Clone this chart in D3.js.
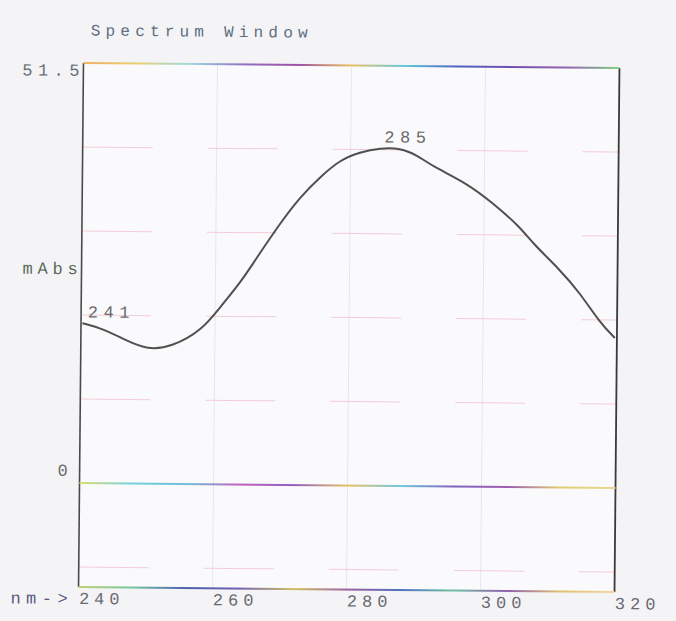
<!DOCTYPE html>
<html>
<head>
<meta charset="utf-8">
<script src="https://cdn.jsdelivr.net/npm/d3@7"></script>
<style>
  body { margin: 0; background: #f4f4f6; }
  svg { display: block; }
  text { font-family: "Liberation Mono", "DejaVu Sans Mono", monospace; }
</style>
</head>
<body>
<div id="theGraph"></div>
<script>
// spectrum (nm, mAbs)
var wavelengths = [240.2, 243.1, 246.6, 250.0, 253.6, 258.1, 260.7, 263.7, 266.6, 269.6, 272.5, 275.5, 278.4, 281.4, 284.4, 287.4, 289.9, 292.3, 297.4, 301.3, 305.4, 307.3, 311.4, 314.4, 317.5, 319.7];
var absorbance  = [19.6, 19.0, 17.6, 16.4, 16.8, 18.9, 21.7, 24.7, 28.4, 32.1, 35.3, 37.8, 39.9, 40.9, 41.4, 41.45, 40.6, 39.2, 37.2, 34.8, 31.9, 29.9, 26.7, 23.9, 20.2, 18.4];
var xTicks = [240, 260, 280, 300, 320];
var yGrid = [-10.3, 10.3, 20.6, 30.9, 41.2];
var peakNames = [241, 285];
var peakValues = [19.7, 41.5];

const width = 676, height = 621,
    margin = {left: 81, top: 65.5, right: 59, bottom: 31.5},
    contentWidth = width - margin.left - margin.right,
    contentHeight = height - margin.top - margin.bottom;

const xScale = d3.scaleLinear().domain([240, 320]).range([0, contentWidth]);
const yScale = d3.scaleLinear().domain([-12.75, 51.5]).range([contentHeight, 0]);

const svg = d3.select("#theGraph")
            .append("svg")
                .attr("width", width)
                .attr("height", height);

// the scan sits a little crooked on the glass
const page = svg.append("g")
                .attr("transform", "rotate(0.54, 348, 327)");

// colour fringes of the scanner on the long horizontal lines
const defs = svg.append("defs");
function rainbow(id, colors) {
    const g = defs.append("linearGradient")
        .attr("id", id)
        .attr("gradientUnits", "userSpaceOnUse")
        .attr("x1", 0).attr("x2", contentWidth).attr("y1", 0).attr("y2", 0);
    colors.forEach((c, i) => {
        g.append("stop").attr("offset", i / (colors.length - 1)).attr("stop-color", c);
    });
}
rainbow("rbTop", ["#f0b060", "#e8d070", "#a0d8e0", "#9070c0", "#a050a0", "#e8c060", "#60c8e0", "#5060c0", "#7050b0", "#9060b0", "#80d080"]);
rainbow("rbZero", ["#d8e070", "#70d0e0", "#70c0d8", "#c060c0", "#9060c0", "#e8c060", "#70c8e0", "#8060c0", "#a060b0", "#e0d070", "#e8d890"]);
rainbow("rbBottom", ["#c0d070", "#70c8a0", "#5060b0", "#7060b0", "#d0c060", "#a060a0", "#5070c0", "#70c0a0", "#9060b0", "#e0c070", "#f0d8a0"]);

page.append("text")
    .attr("x", 88).attr("y", 38)
    .attr("font-size", 16)
    .attr("letter-spacing", 5.2)
    .attr("fill", "#5e6e80")
    .text("Spectrum Window");

const plot = page.append("g")
                 .attr("transform", `translate(${margin.left}, ${margin.top})`);

plot.append("rect")
    .attr("width", contentWidth)
    .attr("height", contentHeight)
    .style("fill", "#fafafc");

// faint grid
plot.selectAll(".vgrid").data(xTicks.slice(1, -1)).enter()
    .append("line")
        .attr("class", "vgrid")
        .attr("x1", d => xScale(d)).attr("x2", d => xScale(d))
        .attr("y1", 0).attr("y2", contentHeight)
        .style("stroke", "#e6e6ec")
        .style("stroke-width", 1);

plot.selectAll(".hgrid").data(yGrid).enter()
    .append("line")
        .attr("class", "hgrid")
        .attr("x1", 0).attr("x2", contentWidth)
        .attr("y1", d => yScale(d)).attr("y2", d => yScale(d))
        .style("stroke", "#f2ccd8")
        .style("stroke-width", 1)
        .style("stroke-dasharray", "70,55");

// frame: dark sides, coloured top/bottom and zero line
plot.append("line")
    .attr("x1", 0).attr("x2", 0).attr("y1", 0).attr("y2", contentHeight)
    .style("stroke", "#4a4a4a").style("stroke-width", 1.6);
plot.append("line")
    .attr("x1", contentWidth).attr("x2", contentWidth).attr("y1", 0).attr("y2", contentHeight)
    .style("stroke", "#3a3a3a").style("stroke-width", 1.8);
plot.append("line")
    .attr("x1", 0).attr("x2", contentWidth).attr("y1", yScale(51.5)).attr("y2", yScale(51.5))
    .style("stroke", "url(#rbTop)").style("stroke-width", 2);
plot.append("line")
    .attr("x1", 0).attr("x2", contentWidth).attr("y1", yScale(0)).attr("y2", yScale(0))
    .style("stroke", "url(#rbZero)").style("stroke-width", 2);
plot.append("line")
    .attr("x1", 0).attr("x2", contentWidth).attr("y1", yScale(-12.75)).attr("y2", yScale(-12.75))
    .style("stroke", "url(#rbBottom)").style("stroke-width", 2);

// spectrum
const points = wavelengths.map((w, i) => ({x: w, y: absorbance[i]}));
const line = d3.line()
    .x(d => xScale(d.x))
    .y(d => yScale(d.y))
    .curve(d3.curveBasis);

plot.append("path")
    .datum(points)
    .attr("d", line)
    .style("fill", "none")
    .style("stroke", "#505050")
    .style("stroke-width", 2);

// peak labels, left aligned on the peak
plot.selectAll(".peak").data(peakNames).enter()
    .append("text")
        .attr("class", "peak")
        .attr("x", d => xScale(d))
        .attr("y", (d, i) => yScale(peakValues[i]) - 5)
        .attr("font-size", 17)
        .attr("letter-spacing", 5.5)
        .attr("fill", "#6a6a6a")
        .text(d => d);

// x axis labels (printer puts them to the right of the tick)
const xAxis = d3.axisBottom(xScale)
    .tickValues(xTicks)
    .tickSize(0)
    .tickPadding(5);
const xg = plot.append("g")
    .attr("transform", `translate(0, ${contentHeight})`)
    .call(xAxis);
xg.select(".domain").remove();
xg.selectAll("text")
    .attr("text-anchor", "start")
    .attr("font-size", 17)
    .attr("letter-spacing", 5)
    .attr("fill", "#6a6a72");

plot.append("text")
    .attr("x", -68).attr("y", contentHeight + 5)
    .attr("dy", "0.71em")
    .attr("font-size", 17)
    .attr("letter-spacing", 5.5)
    .attr("fill", "#5a5a80")
    .text("nm->");

// y labels
plot.append("text")
    .attr("x", -61).attr("y", yScale(51.5) + 13)
    .attr("font-size", 17)
    .attr("letter-spacing", 5.4)
    .attr("fill", "#6a6e7a")
    .text("51.5");
plot.append("text")
    .attr("x", -22).attr("y", yScale(0) - 7)
    .attr("font-size", 17)
    .attr("fill", "#6a6a6a")
    .text("0");
plot.append("text")
    .attr("x", -59).attr("y", yScale(25.6))
    .attr("font-size", 17)
    .attr("letter-spacing", 4.8)
    .attr("fill", "#5a6a5a")
    .text("mAbs");
</script>
</body>
</html>
